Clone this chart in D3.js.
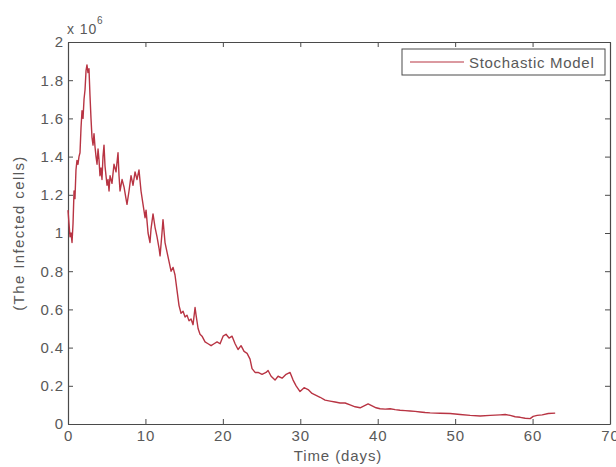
<!DOCTYPE html>
<html>
<head>
<meta charset="utf-8">
<script src="https://cdn.jsdelivr.net/npm/d3@7"></script>
<style>
  body { margin: 0; background: #fff; }
  text { font-family: "Liberation Sans", Arial, sans-serif; }
</style>
</head>
<body>
<div id="chart"></div>
<script>
// Time in days and infected cells (in units of 1e6)
const days = [0, 0.13, 0.26, 0.39, 0.52, 0.65, 0.78, 0.90, 1.03, 1.16, 1.29, 1.42, 1.55, 1.68, 1.81, 1.94,
  2.07, 2.20, 2.33, 2.45, 2.58, 2.71, 2.84, 2.97, 3.10, 3.23, 3.36, 3.49, 3.62, 3.75, 3.88, 4.01,
  4.13, 4.26, 4.39, 4.52, 4.65, 4.78, 4.91, 5.04, 5.17, 5.30, 5.43, 5.68, 5.94, 6.20, 6.46, 6.59,
  6.72, 6.98, 7.24, 7.49, 7.62, 7.88, 8.14, 8.40, 8.66, 8.91, 9.17, 9.43, 9.69, 9.95, 10.08, 10.34,
  10.59, 10.72, 10.98, 11.24, 11.50, 11.76, 11.89, 12.14, 12.27, 12.53, 12.79, 13.05, 13.31, 13.57,
  13.82, 14.08, 14.34, 14.60, 14.86, 15.12, 15.37, 15.63, 15.89, 16.15, 16.41, 16.54, 16.80, 17.05,
  17.31, 17.70, 18.09, 18.48, 18.86, 19.25, 19.64, 20.03, 20.41, 20.80, 21.19, 21.58, 21.96, 22.35,
  22.74, 23.13, 23.51, 23.77, 24.16, 24.55, 25.06, 25.58, 25.84, 26.23, 26.74, 27.13, 27.65, 28.17,
  28.68, 29.07, 29.46, 29.97, 30.49, 31.01, 31.52, 32.04, 32.56, 33.20, 33.85, 34.50, 35.14, 35.79,
  36.43, 37.08, 37.73, 38.24, 38.76, 39.28, 39.79, 40.31, 40.96, 41.60, 42.25, 42.89, 43.54, 44.19,
  44.83, 45.48, 46.12, 46.77, 48.06, 49.35, 50.65, 51.94, 53.23, 54.52, 55.81, 56.46, 57.11, 57.75,
  58.40, 59.04, 59.69, 60.08, 60.59, 61.24, 62.02, 62.92];

const infected = [1.12, 1.05, 0.98, 1.00, 0.95, 1.05, 1.22, 1.18, 1.33, 1.38, 1.36, 1.40, 1.42, 1.55, 1.64, 1.60,
  1.70, 1.75, 1.85, 1.88, 1.84, 1.86, 1.72, 1.60, 1.50, 1.46, 1.52, 1.45, 1.40, 1.36, 1.44, 1.38,
  1.30, 1.34, 1.28, 1.40, 1.46, 1.35, 1.30, 1.25, 1.28, 1.22, 1.30, 1.26, 1.36, 1.32, 1.42, 1.30,
  1.22, 1.28, 1.24, 1.18, 1.15, 1.22, 1.30, 1.25, 1.32, 1.28, 1.33, 1.22, 1.15, 1.08, 1.12, 1.00,
  0.95, 1.02, 1.10, 1.03, 0.98, 0.92, 0.88, 1.00, 1.07, 0.95, 0.90, 0.85, 0.80, 0.82,
  0.78, 0.70, 0.62, 0.58, 0.59, 0.56, 0.57, 0.54, 0.55, 0.52, 0.61, 0.57, 0.50, 0.47,
  0.46, 0.43, 0.42, 0.41, 0.42, 0.43, 0.42, 0.46, 0.47, 0.45, 0.46, 0.42, 0.39, 0.41,
  0.38, 0.37, 0.34, 0.29, 0.27, 0.27, 0.26, 0.27, 0.28, 0.25, 0.23, 0.25, 0.24, 0.26,
  0.27, 0.23, 0.20, 0.17, 0.19, 0.18, 0.16, 0.15, 0.14, 0.125, 0.12, 0.115, 0.11, 0.11,
  0.10, 0.09, 0.085, 0.095, 0.105, 0.095, 0.085, 0.08, 0.078, 0.08, 0.075, 0.072, 0.07, 0.068,
  0.066, 0.063, 0.06, 0.058, 0.056, 0.055, 0.05, 0.045, 0.042, 0.045, 0.048, 0.05, 0.045, 0.038,
  0.035, 0.03, 0.028, 0.04, 0.045, 0.048, 0.055, 0.057];

const xTicks = [0, 10, 20, 30, 40, 50, 60, 70];
const yTicks = [0, 0.2, 0.4, 0.6, 0.8, 1, 1.2, 1.4, 1.6, 1.8, 2];
const seriesName = 'Stochastic Model';

const width = 616, height = 467;
const margin = { top: 42, right: 6, bottom: 43, left: 68 };

const svg = d3.select('#chart')
  .append('svg')
  .attr('width', width)
  .attr('height', height);

const x = d3.scaleLinear().domain([0, 70]).range([margin.left, width - margin.right]);
const y = d3.scaleLinear().domain([0, 2]).range([height - margin.bottom, margin.top]);

const axisColor = '#4a4a4a';
const labelColor = '#595959';
const fontSize = '15px';
const spacing = '0.9px';
const lineColor = '#b83443';

// Axes (ticks point inward, MATLAB style)
const xAxis = svg.append('g')
  .attr('transform', `translate(0,${y(0)})`)
  .call(d3.axisBottom(x).tickValues(xTicks).tickSizeInner(-5).tickSizeOuter(0).tickPadding(6));

const xTop = svg.append('g')
  .attr('transform', `translate(0,${y(2)})`)
  .call(d3.axisTop(x).tickValues(xTicks).tickSizeInner(-5).tickSizeOuter(0).tickFormat(''));

const yAxis = svg.append('g')
  .attr('transform', `translate(${x(0)},0)`)
  .call(d3.axisLeft(y).tickValues(yTicks).tickSizeInner(-5).tickSizeOuter(0).tickPadding(4)
    .tickFormat(d => d === 0 ? '0' : d3.format('~g')(d)));

const yRight = svg.append('g')
  .attr('transform', `translate(${x(70)},0)`)
  .call(d3.axisRight(y).tickValues(yTicks).tickSizeInner(-5).tickSizeOuter(0).tickFormat(''));

[xAxis, xTop, yAxis, yRight].forEach(a => {
  a.select('.domain').attr('stroke', axisColor).attr('stroke-width', 1.2);
  a.selectAll('.tick line').attr('stroke', axisColor);
  a.selectAll('.tick text')
    .attr('fill', labelColor)
    .attr('font-size', fontSize)
    .attr('letter-spacing', spacing)
    .attr('font-family', '"Liberation Sans", Arial, sans-serif');
});

// Scale factor label
const expo = svg.append('text')
  .attr('x', x(0) - 1)
  .attr('y', y(2) - 8)
  .attr('fill', labelColor)
  .attr('font-size', '14px')
  .attr('letter-spacing', spacing);
expo.append('tspan').text('x 10');
expo.append('tspan').attr('dy', -10).attr('font-size', '10px').text('6');

// Series line
const line = d3.line()
  .x((d, i) => x(days[i]))
  .y(d => y(d));

svg.append('path')
  .datum(infected)
  .attr('fill', 'none')
  .attr('stroke', lineColor)
  .attr('stroke-width', 1.4)
  .attr('stroke-linejoin', 'round')
  .attr('d', line);

// Axis labels
svg.append('text')
  .attr('x', 338)
  .attr('y', 461)
  .attr('text-anchor', 'middle')
  .attr('fill', labelColor)
  .attr('font-size', fontSize)
  .attr('letter-spacing', spacing)
  .text('Time (days)');

svg.append('text')
  .attr('transform', `translate(24,${(y(0) + y(2)) / 2}) rotate(-90)`)
  .attr('text-anchor', 'middle')
  .attr('fill', labelColor)
  .attr('font-size', fontSize)
  .attr('letter-spacing', '1.4px')
  .text('(The Infected cells)');

// Legend
const legend = svg.append('g').attr('transform', 'translate(402,49)');
legend.append('rect')
  .attr('width', 203)
  .attr('height', 26)
  .attr('fill', '#fff')
  .attr('stroke', axisColor)
  .attr('stroke-width', 1);
legend.append('line')
  .attr('x1', 8).attr('x2', 62)
  .attr('y1', 13).attr('y2', 13)
  .attr('stroke', lineColor)
  .attr('stroke-width', 1.2);
legend.append('text')
  .attr('x', 67)
  .attr('y', 18.5)
  .attr('fill', labelColor)
  .attr('font-size', fontSize)
  .attr('letter-spacing', '0.7px')
  .text(seriesName);
</script>
</body>
</html>
